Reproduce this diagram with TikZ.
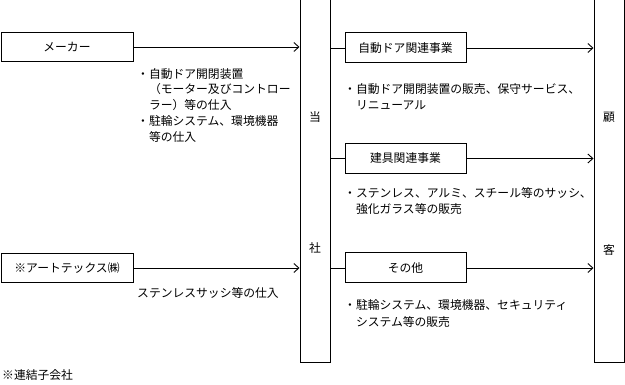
\documentclass[tikz,border=0pt]{standalone}
\usepackage{fontspec}
\setmainfont{Noto Sans CJK JP}
\usetikzlibrary{arrows.meta}
\begin{document}
\begin{tikzpicture}[x=1pt,y=-1pt,font=\fontsize{11.8}{16}\selectfont,
  box/.style={draw,line width=1pt,inner sep=0pt,minimum height=29pt},
  note/.style={anchor=north west,inner sep=0pt,align=left},
  wire/.style={line width=0.9pt},
  link/.style={wire,-{Straight Barb[length=5pt,width=9pt]}}]
\useasboundingbox (0,0) rectangle (625,385);
% suppliers
\node[box,minimum width=132pt] (maker) at (67,47) {メーカー};
\node[box,minimum width=132pt] (arttex) at (67,268) {※アートテックス㈱};
% company and customers
\node[box,minimum width=30pt,minimum height=368pt] (honsha) at (315,179) {};
\node (tou) at (315,117) {当};
\node (sha) at (315,248) {社};
\node[box,minimum width=30pt,minimum height=368pt] (kokyaku) at (609,179) {};
\node (ko) at (609,117) {顧};
\node (kyaku) at (609,250) {客};
% segments
\node[box,minimum width=121pt,minimum height=30pt] (door) at (405.5,48) {自動ドア関連事業};
\node[box,minimum width=121pt,minimum height=30pt] (tategu) at (405.5,158.5) {建具関連事業};
\node[box,minimum width=121pt,minimum height=30pt] (other) at (405.5,268) {その他};
% flows
\draw[link] (maker) -- (maker -| honsha.west);
\draw[link] (arttex) -- (arttex -| honsha.west);
\foreach \seg in {door,tategu,other}{
  \draw[wire] (honsha.east |- \seg) -- (\seg);
  \draw[link] (\seg) -- (\seg -| kokyaku.west);
}
% notes
\node[note,font=\fontsize{11.8}{15.75}\selectfont] (makernote) at (137,68) {・自動ドア開閉装置\\\hspace*{1em}（モーター及びコントロー\\\hspace*{1em}ラー）等の仕入\\・駐輪システム、環境機器\\\hspace*{1em}等の仕入};
\node[note] (arttexnote) at (137,287) {ステンレスサッシ等の仕入};
\node[note] (doornote) at (344,83) {・自動ドア開閉装置の販売、保守サービス、\\\hspace*{1em}リニューアル};
\node[note] (tategunote) at (344,187) {・ステンレス、アルミ、スチール等のサッシ、\\\hspace*{1em}強化ガラス等の販売};
\node[note,font=\fontsize{11.8}{17}\selectfont] (othernote) at (344,299) {・駐輪システム、環境機器、セキュリティ\\\hspace*{1em}システム等の販売};
\node[note] (footnote) at (2,369) {※連結子会社};
\end{tikzpicture}
\end{document}
